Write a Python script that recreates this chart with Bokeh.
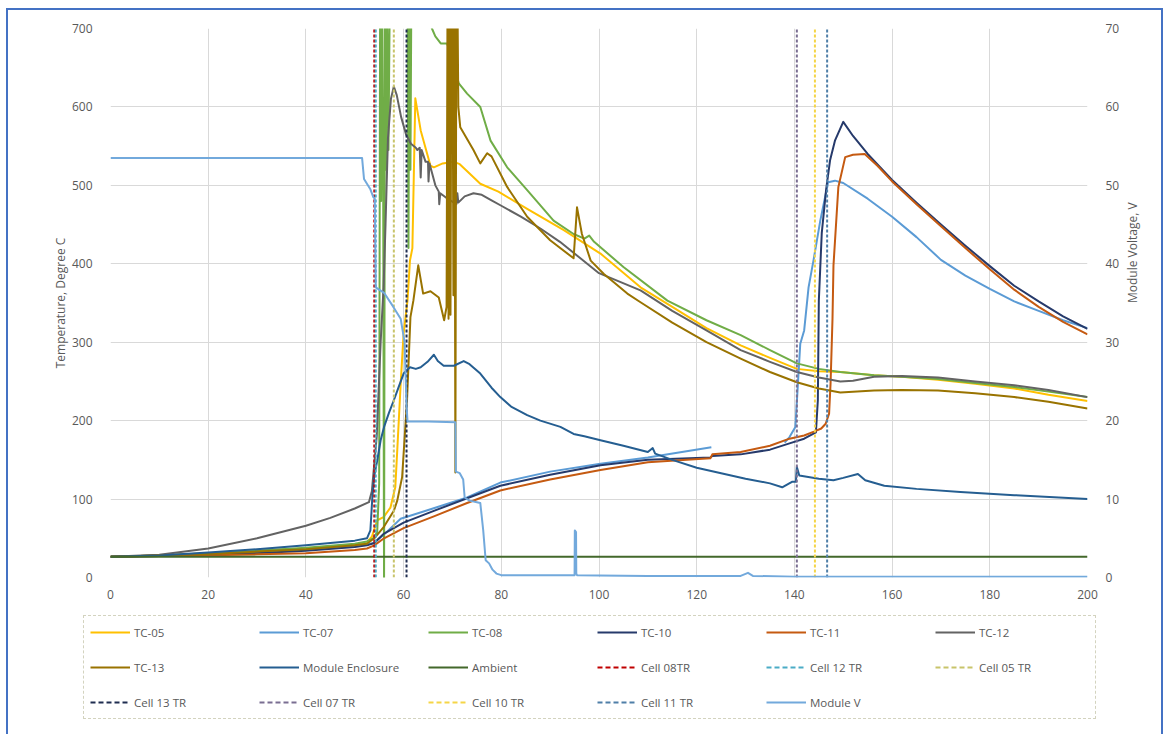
import math
from bokeh.plotting import figure
from bokeh.layouts import column
from bokeh.models import Range1d, LinearAxis, Legend, LegendItem, FixedTicker
from bokeh.embed import file_html
from bokeh.resources import INLINE

FONT = "Open Sans"
TXT = "#595959"

# ---------------- data ----------------
x_ticks = [0, 20, 40, 60, 80, 100, 120, 140, 160, 180, 200]
t_ticks = [0, 100, 200, 300, 400, 500, 600, 700]
v_ticks = [0, 10, 20, 30, 40, 50, 60, 70]

tc05_x = [0, 10, 20, 30, 40, 50, 52.5, 53.5, 54.6, 55.9, 57.3, 58.3, 58.7, 59.4, 60.0, 60.8, 61.3, 61.8, 62.4,
          63.5, 65.5, 66.2, 68, 70.3, 71.5, 73.5, 75.7, 79.4, 85.3, 92.8, 100.3, 108.5, 115, 122, 129, 135,
          140.5, 145, 149.4, 156.3, 162, 169.4, 177, 185, 192, 200]
tc05_y = [26.5, 28, 31, 34, 37, 42, 45, 52, 73, 77, 89, 115, 162, 247, 311, 353, 404, 420, 611,
          570, 525, 523, 528, 530, 527, 515, 502, 492, 470, 443, 413, 370, 345, 318, 296, 280,
          266, 263, 262, 258, 256, 252, 247, 241, 233, 225]

tc07_x = [0, 10, 20, 30, 40, 50, 52.5, 53.9, 56, 59.4, 66, 73, 79.8, 90, 100.3, 110, 123, 130, 138, 139,
          140.2, 141.2, 142, 142.9, 143.9, 145.3, 146.9, 148.3, 150, 155, 160, 165, 170, 175, 180, 185,
          190, 195, 200]
tc07_y = [26.5, 27.5, 30, 32.5, 35, 40, 42, 44, 55, 75, 88, 102, 121, 135, 145, 153, 166, None, 172, 179,
          192, 298, 315, 370, 404, 455, 504, 506, 503, 483, 460, 434, 405, 385, 368, 352,
          340, 328, 318]

tc08_x = [0, 10, 20, 30, 40, 50, 52.5, 53.8, 54.6, 55.0, 55.2, 55.4, 55.6, 55.8, 56.0, 56.2, 56.4, 56.6,
          56.9, 57.2, 59, 60.8, 61.0, 61.2, 61.4, 61.6, 63, 65.8, 66.5, 67.6, 68.9, 70, 71.3, 73, 75.7,
          77.8, 81.2, 85.3, 90.7, 94.8, 97, 98, 99, 100.3, 105, 114, 122, 129, 135, 140.5, 145, 149.4,
          156.3, 162, 169.4, 177, 185, 192, 200]
tc08_y = [26.5, 28, 31, 34, 38, 43, 46, 50, 58, 120, 760, 480, 760, 560, -20, 760, 520, 760,
          545, 760, 760, 760, 420, 760, 520, 760, 760, 700, 690, 681, 681, 660, 630, 617, 600,
          557, 523, 494, 455, 438, 432, 436, 428, 421, 396, 353, 328, 309, 290, 273, 266, 262,
          258, 256, 253, 248, 243, 237, 230]

tc10_x = [0, 10, 20, 30, 40, 50, 52.5, 54, 56, 60, 66.2, 73, 79.8, 90, 100.3, 110, 122.8, 123.2, 129, 135,
          139, 142, 144.4, 144.8, 145.0, 145.6, 146.5, 147.3, 148.3, 150, 152, 155, 160, 165, 170, 175,
          180, 185, 190, 195, 200]
tc10_y = [26.5, 27.5, 29, 31, 34, 39, 41, 44, 56, 70, 85, 101, 117, 131, 143, 150, 153, 155, 157, 163,
          171, 177, 185, 226, 353, 439, 495, 532, 557, 581, 563, 540, 507, 478, 450, 423,
          397, 372, 352, 333, 317]

tc11_x = [0, 10, 20, 30, 40, 50, 52.5, 54, 56, 60, 66.2, 73, 79.8, 90, 100.3, 110, 122.8, 123.2, 129, 135,
          139, 142, 144, 145.5, 146.4, 147.1, 147.4, 147.8, 148, 149, 150.4, 152, 154.4, 157, 160, 165,
          170, 175, 180, 185, 190, 195, 200]
tc11_y = [26.5, 27.5, 28.5, 29.5, 31, 35, 37, 41, 50, 63, 78, 95, 111, 125, 137, 147, 152, 157, 160, 168,
          177, 181, 186, 190, 196, 209, 247, 330, 398, 498, 536, 539, 540, 525, 505, 476,
          448, 420, 393, 367, 345, 326, 310]

tc12_x = [0, 10, 20, 30, 40, 45, 50, 52.9, 53.5, 54.5, 55.3, 55.9, 56.3, 56.8, 57.4, 58.0, 58.6, 59.5, 60.5,
          61.5, 62.5, 62.8, 63.3, 63.5, 63.7, 64.5, 65.0, 65.1, 65.3, 66.5, 67.2, 67.3, 67.5, 69, 70.3,
          70.8, 71.0, 71.2, 72.5, 74.3, 76, 78, 80, 84, 88, 92, 96, 100, 108.5, 115, 122, 129, 135, 140.5,
          145, 149.4, 152, 156.3, 162, 169.4, 177, 185, 192, 200]
tc12_y = [26.5, 29, 37, 50, 66, 76, 88, 96, 110, 180, 300, 370, 450, 560, 610, 626, 615, 587, 565,
          553, 548, 545, 548, 510, 545, 530, 530, 505, 528, 500, 492, 476, 490, 483, 478,
          476, 490, 478, 486, 490, 488, 481, 474, 460, 445, 428, 408, 388, 366, 340, 315, 290, 275, 262,
          255, 250, 251, 256, 257, 255, 250, 245, 239, 230]

tc13_x = [0, 10, 20, 30, 40, 50, 52.5, 54, 56, 58, 58.7, 59.7, 60.7, 61.4, 62.0, 63.0, 64.0, 65.5, 67.2,
          68.3, 68.8, 69.0, 69.2, 69.4, 69.6, 69.8, 70.0, 70.2, 70.4, 70.6, 70.8, 71.0, 71.2, 71.6, 74.3,
          75.7, 77.1, 78, 81.2, 85.3, 90, 94.8, 95.5, 96.5, 98.3, 101, 105.8, 108.5, 115, 122, 129, 135,
          140.5, 145, 149.4, 156.3, 162, 169.4, 177, 185, 192, 200]
tc13_y = [26.5, 28, 30, 33, 36, 41, 43, 50, 65, 85, 98, 128, 226, 332, 353, 398, 362, 365, 357,
          328, 345, 760, 330, 760, 335, 760, 760, 360, 760, 134, 760, 760, 600, 574, 545,
          528, 541, 537, 498, 460, 430, 407, 472, 438, 404, 387, 362, 351, 325, 300, 279, 262,
          249, 241, 236, 238.5, 239, 238.5, 235, 230, 224, 215.5]

encl_x = [0, 10, 20, 30, 40, 50, 52.5, 53.2, 53.6, 54.0, 54.6, 55.3, 56, 57, 58, 59, 60, 61.3, 62.5, 63.5,
          64.9, 66.2, 67, 68.2, 70.3, 72.3, 73.5, 75.7, 78, 79.8, 82, 85.3, 88, 92.1, 94.8, 97, 100.3,
          105, 110, 111, 111.5, 115, 120, 125, 130, 135, 137.5, 139.5, 140.3, 140.5, 141, 145, 148, 150,
          153, 154.5, 158.4, 165, 174, 185, 200]
encl_y = [26.5, 28, 32, 36, 41, 47, 50, 60, 102, 130, 149, 175, 192, 210, 226, 243, 260, 268, 266, 268,
          275, 284, 276, 270, 270, 276, 272, 260, 242, 230, 218, 207, 200, 192, 183, 180, 175,
          168, 160, 165, 158, 150, 140, 133, 126, 120, 115, 122, 122, 141, 130, 126, 124, 127,
          132, 124, 117, 113, 109, 105, 100]

amb_x = [0, 200]
amb_y = [26.5, 26.5]

cell_names = ["Cell 08TR", "Cell 12 TR", "Cell 05 TR", "Cell 13 TR", "Cell 07 TR", "Cell 10 TR", "Cell 11 TR"]
cell_times = [54.0, 54.3, 58.0, 60.6, 140.5, 144.2, 146.7]

modv_x = [0, 51.5, 51.9, 52.5, 53.2, 53.8, 54.1, 54.3, 56, 57.9, 59.4, 60.2, 60.6, 60.8, 65, 70.6, 70.7,
          71.5, 72.2, 72.5, 73.5, 75, 75.7, 76.3, 76.8, 77.5, 78.2, 79, 80, 85, 95, 95.05, 95.3, 95.35,
          95.5, 100, 110, 129, 130.5, 131.5, 140, 200]
modv_y = [53.5, 53.5, 50.8, 50.2, 49.5, 48.5, 48.3, 37, 36.3, 34.5, 33, 30, 22, 19.9, 19.9, 19.8, 13.5,
          13.3, 12.5, 10.2, 9.8, 9.6, 9.5, 6, 2.2, 1.8, 1.0, 0.5, 0.3, 0.3, 0.3, 6.0, 5.8, 0.5,
          0.3, 0.25, 0.2, 0.2, 0.6, 0.2, 0.1, 0.1]

# ---------------- main figure ----------------
p = figure(width=1153, height=600, x_range=Range1d(0, 200), y_range=Range1d(0, 700),
           output_backend="svg", toolbar_location=None,
           min_border_left=102, min_border_right=74, min_border_top=18, min_border_bottom=33,
           background_fill_color="white", border_fill_color="white")
p.outline_line_color = None
p.extra_y_ranges = {"v": Range1d(0, 70)}

p.xaxis.ticker = FixedTicker(ticks=x_ticks)
p.yaxis.ticker = FixedTicker(ticks=t_ticks)
p.yaxis.axis_label = "Temperature, Degree C"
raxis = LinearAxis(y_range_name="v", ticker=FixedTicker(ticks=v_ticks), axis_label="Module Voltage, V")
p.add_layout(raxis, "right")
if "axis_label_orientation" in raxis.properties():
    raxis.axis_label_orientation = math.pi / 2

for ax in [p.xaxis[0], p.yaxis[0], raxis]:
    ax.axis_line_color = None
    ax.major_tick_line_color = None
    ax.minor_tick_line_color = None
    ax.major_label_text_font = FONT
    ax.major_label_text_font_size = "12px"
    ax.major_label_text_color = TXT
    ax.axis_label_text_font = FONT
    ax.axis_label_text_font_size = "12px"
    ax.axis_label_text_font_style = "normal"
    ax.axis_label_text_color = TXT
p.xaxis.major_label_standoff = 6
p.yaxis.major_label_standoff = 12
raxis.major_label_standoff = 12
p.yaxis.axis_label_standoff = 0
raxis.axis_label_standoff = 10

p.xgrid.grid_line_color = "#d9d9d9"
p.ygrid.grid_line_color = "#d9d9d9"

# ---------------- legend figure ----------------
q = figure(width=1153, height=124, x_range=Range1d(0, 1), y_range=Range1d(0, 1),
           output_backend="svg", toolbar_location=None, min_border=0,
           background_fill_color="white", border_fill_color="white")
q.axis.visible = False
q.grid.visible = False
q.outline_line_color = None

series = [
    ("TC-05", tc05_x, tc05_y, "#FFC000"),
    ("TC-07", tc07_x, tc07_y, "#5B9BD5"),
    ("TC-08", tc08_x, tc08_y, "#70AD47"),
    ("TC-10", tc10_x, tc10_y, "#263A6B"),
    ("TC-11", tc11_x, tc11_y, "#C55A11"),
    ("TC-12", tc12_x, tc12_y, "#636363"),
    ("TC-13", tc13_x, tc13_y, "#997300"),
    ("Module Enclosure", encl_x, encl_y, "#255E91"),
    ("Ambient", amb_x, amb_y, "#43682B"),
]
# off-canvas two-point stand-ins so the legend figure can draw each swatch
swatch_x = [-10, -9]
swatch_y = [-10, -10]

items = []
for name, xs, ys, col in series:
    ys2 = [float("nan") if v is None else v for v in ys]
    p.line(xs, ys2, line_color=col, line_width=2, line_join="round")
    rl = q.line(swatch_x, swatch_y, line_color=col, line_width=2)
    items.append(LegendItem(label=name, renderers=[rl]))

cell_colors = ["#C00000", "#4BACC6", "#C8C46A", "#1F2D50", "#7A6E92", "#F5D547", "#4F7FA8"]
for name, t, col in zip(cell_names, cell_times, cell_colors):
    p.line([t, t], [t_ticks[0], t_ticks[-1]], line_color=col, line_width=2, line_dash="3 2")
    rl = q.line(swatch_x, swatch_y, line_color=col, line_width=2, line_dash="5 3")
    items.append(LegendItem(label=name, renderers=[rl]))

p.line(modv_x, modv_y, y_range_name="v", line_color="#72A9DC", line_width=2, line_join="round")
rl = q.line(swatch_x, swatch_y, line_color="#72A9DC", line_width=2)
items.append(LegendItem(label="Module V", renderers=[rl]))

legend = Legend(items=items, orientation="horizontal", ncols=6, location=(75, 15),
                border_line_color="#A8A880", border_line_dash="4 3", border_line_width=1,
                label_text_font=FONT, label_text_font_size="11.5px", label_text_color=TXT,
                glyph_width=40, glyph_height=20, label_height=20, label_width=110,
                label_standoff=4, spacing=15, padding=6, margin=0,
                background_fill_alpha=0)
q.add_layout(legend, "center")

if "frame_align" in q.properties():
    p.frame_align = False
    q.frame_align = False
    layout = column(p, q, spacing=0)
    layout.styles = {"margin-left": "6px", "margin-top": "8px",
                     "border-left": "2px solid #4472C4", "border-top": "2px solid #4472C4",
                     "border-right": "2px solid #4472C4"}
    html = file_html(layout, INLINE)
else:
    p.styles = {"margin-left": "6px", "margin-top": "8px",
                "border-left": "2px solid #4472C4", "border-top": "2px solid #4472C4",
                "border-right": "2px solid #4472C4"}
    q.styles = {"margin-left": "6px",
                "border-left": "2px solid #4472C4", "border-right": "2px solid #4472C4"}
    html = file_html([p, q], INLINE)

open("out.html", "w").write(html)
